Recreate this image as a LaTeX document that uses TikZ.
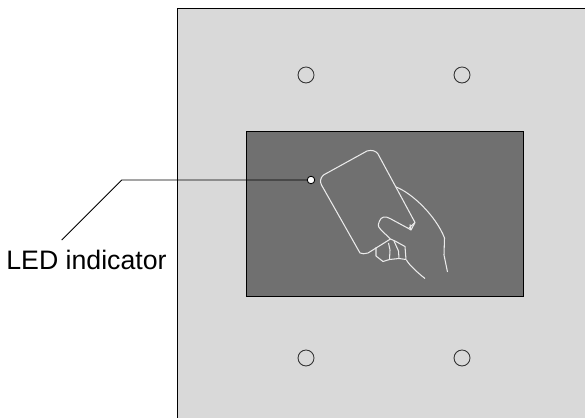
\documentclass[tikz,border=0pt]{standalone}
\usepackage{fontspec}
\setmainfont{Liberation Sans}
\tikzset{
  hole/.style={circle,draw=black!80,line width=.5pt,inner sep=0pt,minimum size=.32cm},
  led/.style={circle,draw=black,fill=white,line width=.5pt,inner sep=0pt,minimum size=.15cm},
  handline/.style={draw=white!92!black,line width=.6pt,line join=round}
}
\definecolor{plategray}{HTML}{D9D9D9}
\definecolor{panelgray}{HTML}{707070}
\begin{document}
\begin{tikzpicture}[x=.02cm,y=-.02cm]
    \useasboundingbox (0,0) rectangle (585,418);
    % PLATE
    \fill[plategray] (177.5,8) rectangle (585,418);
    \draw[line width=.5pt] (177.5,418) -- (177.5,8) -- (585,8);
    % screw holes
    \node[hole] (holeA) at (306,75) {};
    \node[hole] (holeB) at (462,75) {};
    \node[hole] (holeC) at (306,358) {};
    \node[hole] (holeD) at (462,358) {};
    % PANEL
    \draw[fill=panelgray,line width=.5pt] (246,131) rectangle (523,296);
    % card
    \draw[handline] (323.5,175) -- (367,151)
      .. controls (372,149.5) and (376,151) .. (378,154)
      -- (415,222.5) -- (411,230) -- (408.5,228.5) -- (390,218.5)
      .. controls (385,215.5) and (381,217) .. (379.5,221)
      .. controls (377,226) and (379,228) .. (381,230)
      -- (390.5,239) -- (368,253) .. controls (365,254) and (362,254) .. (360,253)
      -- (321.5,185) .. controls (320,182) and (320,178) .. (323.5,175);
    % fingers
    \draw[handline] (376,247.5) -- (376,256) -- (383,261.5) -- (389.5,259.5)
      -- (399,258.5) -- (406,259.5) -- (405,246.5) -- (395,241) -- (390.5,239);
    \draw[handline] (388.5,243) -- (390,250) -- (389.5,259.5);
    \draw[handline] (394,241) -- (398.5,251) -- (399,258.5);
    \draw[handline] (408.5,228.5) -- (415,222.5) (410,224.5) -- (411,230);
    % back of the hand
    \draw[handline] (396,187) .. controls (412,193) and (436,216) .. (444.5,238)
      -- (444,255) -- (447.5,272);
    \draw[handline] (406.5,260) .. controls (409,265) and (418,273) .. (425,278.5);
    % LABEL
    \node[led] (ledlamp) at (311,180) {};
    \node[anchor=base west,inner sep=0pt,font=\fontsize{15.2}{18}\selectfont] (ledlabel) at (6,270) {LED indicator};
    \coordinate (ledbend) at (121.7,180);
    \coordinate (ledfoot) at (61.7,240);
    \draw[line width=.5pt] (ledfoot) -- (ledbend) -- (ledlamp);
\end{tikzpicture}
\end{document}
